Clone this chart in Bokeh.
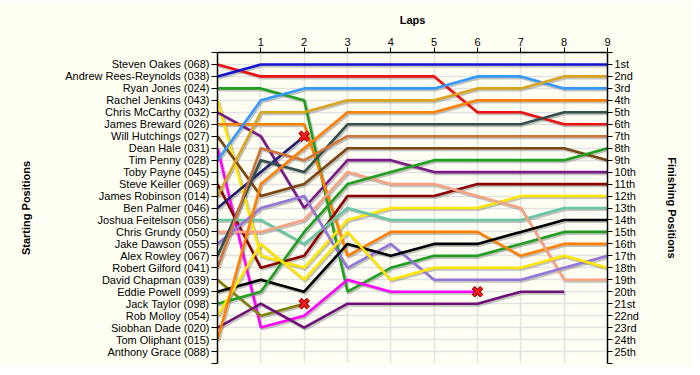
from bokeh.plotting import figure
from bokeh.models import Range1d, LinearAxis, FixedTicker
from bokeh.embed import file_html
from bokeh.resources import INLINE

# ---------------- data ----------------
laps = [0, 1, 2, 3, 4, 5, 6, 7, 8, 9]

start_labels = [
    "Steven Oakes (068)", "Andrew Rees-Reynolds (038)", "Ryan Jones (024)",
    "Rachel Jenkins (043)", "Chris McCarthy (032)", "James Breward (026)",
    "Will Hutchings (027)", "Dean Hale (031)", "Tim Penny (028)",
    "Toby Payne (045)", "Steve Keiller (069)", "James Robinson (014)",
    "Ben Palmer (046)", "Joshua Feitelson (056)", "Chris Grundy (050)",
    "Jake Dawson (055)", "Alex Rowley (067)", "Robert Gilford (041)",
    "David Chapman (039)", "Eddie Powell (099)", "Jack Taylor (098)",
    "Rob Molloy (054)", "Siobhan Dade (020)", "Tom Oliphant (015)",
    "Anthony Grace (088)",
]

finish_labels = [
    "1st", "2nd", "3rd", "4th", "5th", "6th", "7th", "8th", "9th", "10th",
    "11th", "12th", "13th", "14th", "15th", "16th", "17th", "18th", "19th",
    "20th", "21st", "22nd", "23rd", "24th", "25th",
]

# lap-by-lap positions (lap 0 = grid)
oakes = [1, 2, 2, 2, 2, 2, 5, 5, 6, 6]
rees_reynolds = [2, 1, 1, 1, 1, 1, 1, 1, 1, 1]
jones = [3, 3, 4, 20, 18, 17, 17, 16, 15, 15]
jenkins = [4, 17, 18, 14, 13, 13, 13, 12, 12, 12]
mccarthy = [5, 7, 13, 9, 9, 10, 10, 10, 10, 10]
breward = [6, 6, 6, 17, 15, 15, 15, 17, 16, 16]
hutchings = [7, 12, 11, 8, 8, 8, 8, 8, 8, 9]
hale = [8, 23, 22, 19, 20, 20, 20]
penny = [9, 4, 3, 3, 3, 3, 2, 2, 3, 3]
keiller = [11, 18, 17, 12, 12, 12, 11, 11, 11, 11]
robinson = [12, 5, 5, 4, 4, 4, 3, 3, 2, 2]
palmer = [13, 10, 7]
feitelson = [14, 14, 16, 13, 14, 14, 14, 14, 13, 13]
grundy = [15, 15, 14, 10, 11, 11, 12, 13, 19, 19]
dawson = [16, 13, 12, 18, 16, 19, 19, 19, 18, 17]
rowley = [17, 9, 10, 6, 6, 6, 6, 6, 5, 5]
gilford = [18, 8, 9, 7, 7, 7, 7, 7, 7, 7]
chapman = [19, 22, 21]
powell = [20, 19, 20, 16, 17, 16, 16, 15, 14, 14]
taylor = [21, 20, 15, 11, 10, 9, 9, 9, 9, 8]
molloy = [22, 16, 19, 15, 19, 18, 18, 18, 17, 18]
dade = [23, 21, 23, 21, 21, 21, 21, 20, 20]
oliphant = [24, 11, 8, 5, 5, 5, 4, 4, 4, 4]

series = [oakes, rees_reynolds, jones, jenkins, mccarthy, breward, hutchings,
          hale, penny, keiller, robinson, palmer, feitelson, grundy, dawson,
          rowley, gilford, chapman, powell, taylor, molloy, dade, oliphant]

colors = ["#EE1111", "#1414D2", "#1F9E1F", "#FFE600", "#7A1A88", "#FF8000",
          "#7B4512", "#FF00FF", "#3399FF", "#8B0000", "#D9A521", "#1F1F70",
          "#66C7A5", "#F7A383", "#9575DA", "#34504C", "#CF7437", "#80800A",
          "#000000", "#1F9E1F", "#FFE600", "#6E1078", "#FF8000"]

retired = [palmer, chapman, hale]

# ---------------- figure ----------------
BG = "#FFFFF4"
FONT = "Liberation Sans"

p = figure(width=692, height=367, x_range=Range1d(0, 9), y_range=Range1d(26, 0),
           output_backend="svg", toolbar_location=None, x_axis_location="above",
           min_border_left=217, min_border_right=85, min_border_top=52,
           min_border_bottom=4, background_fill_color=BG, border_fill_color=BG)
p.outline_line_color = None

p.xgrid.ticker = FixedTicker(ticks=laps)
p.ygrid.ticker = FixedTicker(ticks=list(range(1, 26)))
for g in (p.xgrid[0], p.ygrid[0]):
    g.grid_line_color = "#E2E2E2"
    g.grid_line_width = 1.5

def style_axis(ax):
    ax.axis_line_color = "black"
    ax.axis_line_width = 1.5
    ax.major_tick_line_color = "black"
    ax.major_tick_line_width = 1
    ax.major_tick_out = 6
    ax.major_tick_in = 0
    ax.minor_tick_line_color = None
    ax.major_label_text_font = FONT
    ax.major_label_text_font_size = "11px"
    ax.major_label_text_color = "black"
    ax.major_label_standoff = 2
    ax.axis_label_text_font = FONT
    ax.axis_label_text_font_size = "11px"
    ax.axis_label_text_font_style = "bold"
    ax.axis_label_text_color = "black"

top = p.xaxis[0]
top.ticker = FixedTicker(ticks=laps[1:])
top.axis_label = "Laps"
style_axis(top)
top.major_tick_out = 5
top.axis_label_standoff = 9

left = p.yaxis[0]
left.ticker = FixedTicker(ticks=list(range(0, 27)))
left.major_label_overrides = {i + 1: t for i, t in enumerate(start_labels)} | {0: "", 26: ""}
left.axis_label = "Starting Positions"
style_axis(left)
left.axis_label_standoff = 30

right = LinearAxis(ticker=FixedTicker(ticks=list(range(0, 27))),
                   axis_label="Finishing Positions")
right.major_label_overrides = {i + 1: t for i, t in enumerate(finish_labels)} | {0: "", 26: ""}
style_axis(right)
right.major_tick_out = 5
right.axis_label_standoff = 24
p.add_layout(right, "right")

# shadows then lines
for s in series:
    xs = laps[:len(s)]
    p.line([x + 0.03 for x in xs], [y + 0.13 for y in s],
           line_color="#7A7A7A", line_alpha=0.45, line_width=3)
for s, c in zip(series, colors):
    p.line(laps[:len(s)], s, line_color=c, line_width=2.6)

rx = [len(s) - 1 for s in retired]
ry = [s[-1] for s in retired]
p.scatter(rx, ry, marker="x", size=12, line_color="#7A0000", line_width=4.5)
p.scatter(rx, ry, marker="x", size=12, line_color="#FF1A1A", line_width=2.5)

open("out.html", "w").write(file_html(p, INLINE))
